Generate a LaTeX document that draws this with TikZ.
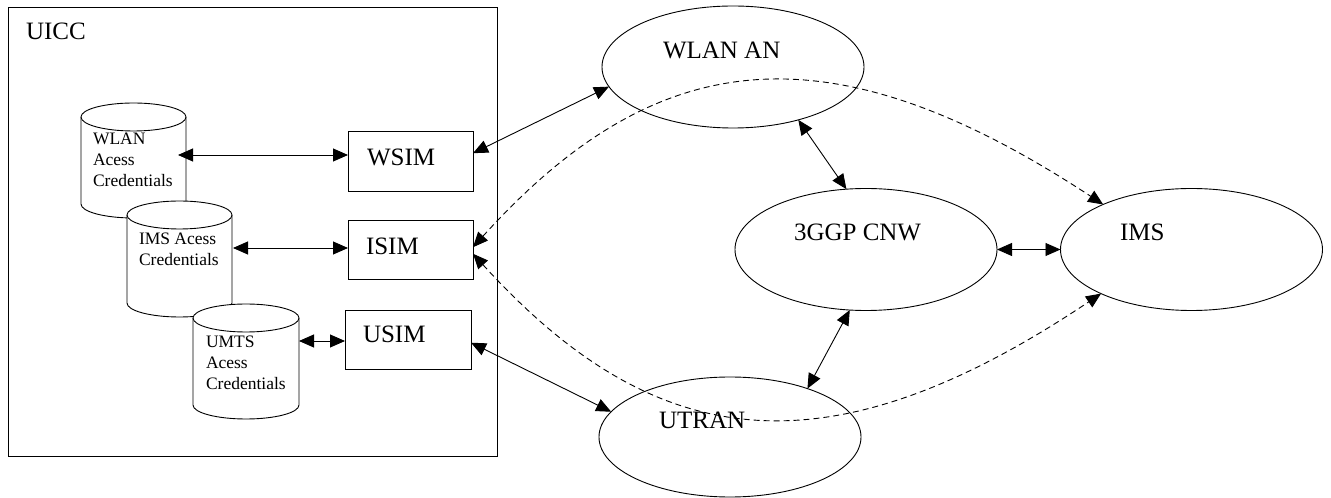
\documentclass[tikz,border=0pt]{standalone}
\usepackage{fontspec}
\setmainfont{Liberation Serif}
\usetikzlibrary{shapes.geometric,arrows.meta}
\newcommand\drawcyl[4]{% left, right, top, bottom (y up)
  \filldraw[cylline] (#1,#3-14) -- (#1,#4+14)
    arc[start angle=180,end angle=360,x radius={(#2-#1)/2},y radius=14]
    -- (#2,#3-14)
    arc[start angle=0,end angle=180,x radius={(#2-#1)/2},y radius=14] -- cycle;
  \draw[cylline] (#1,#3-14)
    arc[start angle=180,end angle=360,x radius={(#2-#1)/2},y radius=14];
}
\begin{document}
\begin{tikzpicture}[x=1pt,y=1pt,
  every node/.style={inner sep=0pt, outer sep=0pt},
  lbl/.style={font=\fontsize{25}{30}\selectfont, anchor=base west},
  credtext/.style={font=\fontsize{17.5}{21}\selectfont, align=left, anchor=north west},
  cylline/.style={line width=0.9pt, fill=white},
  simbox/.style={draw, line width=1pt, minimum width=125pt, minimum height=60pt},
  cloud/.style={draw, ellipse, line width=0.9pt, minimum width=262pt, minimum height=122pt},
  biarrow/.style={line width=0.9pt, {Triangle[length=15pt,width=13pt]}-{Triangle[length=15pt,width=13pt]}},
  dasharrow/.style={biarrow, dash pattern=on 6pt off 4pt}
]
\useasboundingbox (0,0) rectangle (1331,498);

% UICC container
\node[draw, line width=0.9pt, minimum width=489pt, minimum height=449pt] (uicc) at (252.5,266.5) {};
\node[lbl] (uicclbl) at (26,458) {UICC};

% credential stores
\drawcyl{81}{186}{395}{280}
\drawcyl{127}{232}{297}{181}
\drawcyl{193}{299}{194}{79}
\node[credtext] (wlancred) at (93,365) {WLAN\\Acess\\Credentials};
\node[credtext] (imscred) at (139,265) {IMS Acess\\Credentials};
\node[credtext] (umtscred) at (206,162) {UMTS\\Acess\\Credentials};
\coordinate (wlanport) at (178,343);
\coordinate (imsport) at (233,250);
\coordinate (umtsport) at (299,157);

% SIM applications
\node[simbox] (wsim) at (410.5,336) {};
\node[simbox, minimum height=59pt] (isim) at (410.5,247.5) {};
\node[simbox, minimum width=126pt, minimum height=59pt] (usim) at (408,157.5) {};
\node[lbl] (wsimlbl) at (367,332) {WSIM};
\node[lbl] (isimlbl) at (366,243) {ISIM};
\node[lbl] (usimlbl) at (363,155) {USIM};

% networks
\node[cloud] (wlanan) at (733,431) {};
\node[cloud] (cnw) at (866,248.5) {};
\node[cloud] (ims) at (1191.5,248.5) {};
\node[cloud, minimum height=120pt] (utran) at (730,61) {};
\node[lbl] (wlananlbl) at (663,439) {WLAN AN};
\node[lbl] (cnwlbl) at (794,257) {3GGP CNW};
\node[lbl] (imslbl) at (1120,257) {IMS};
\node[lbl] (utranlbl) at (659,69) {UTRAN};

% solid connectors
\draw[biarrow] (wlanport) -- (wlanport -| wsim.west);
\draw[biarrow] (imsport) -- (imsport -| isim.west);
\draw[biarrow] (umtsport) -- (umtsport -| usim.west);
\draw[biarrow] (wsim.8) -- (wlanan.189);
\draw[biarrow] (usim.-2) -- (utran.168);
\draw[biarrow] (wlanan.321) -- (cnw.108);
\draw[biarrow] (cnw.255) -- (utran.32);
\draw[biarrow] (cnw.east) -- (ims.west);

% dashed connectors
\draw[dasharrow] (isim.3) .. controls (655,452) and (827,475) .. (ims.153.6);
\draw[dasharrow] (isim.-3) .. controls (655,44) and (827,21) .. (ims.206.4);
\end{tikzpicture}
\end{document}
